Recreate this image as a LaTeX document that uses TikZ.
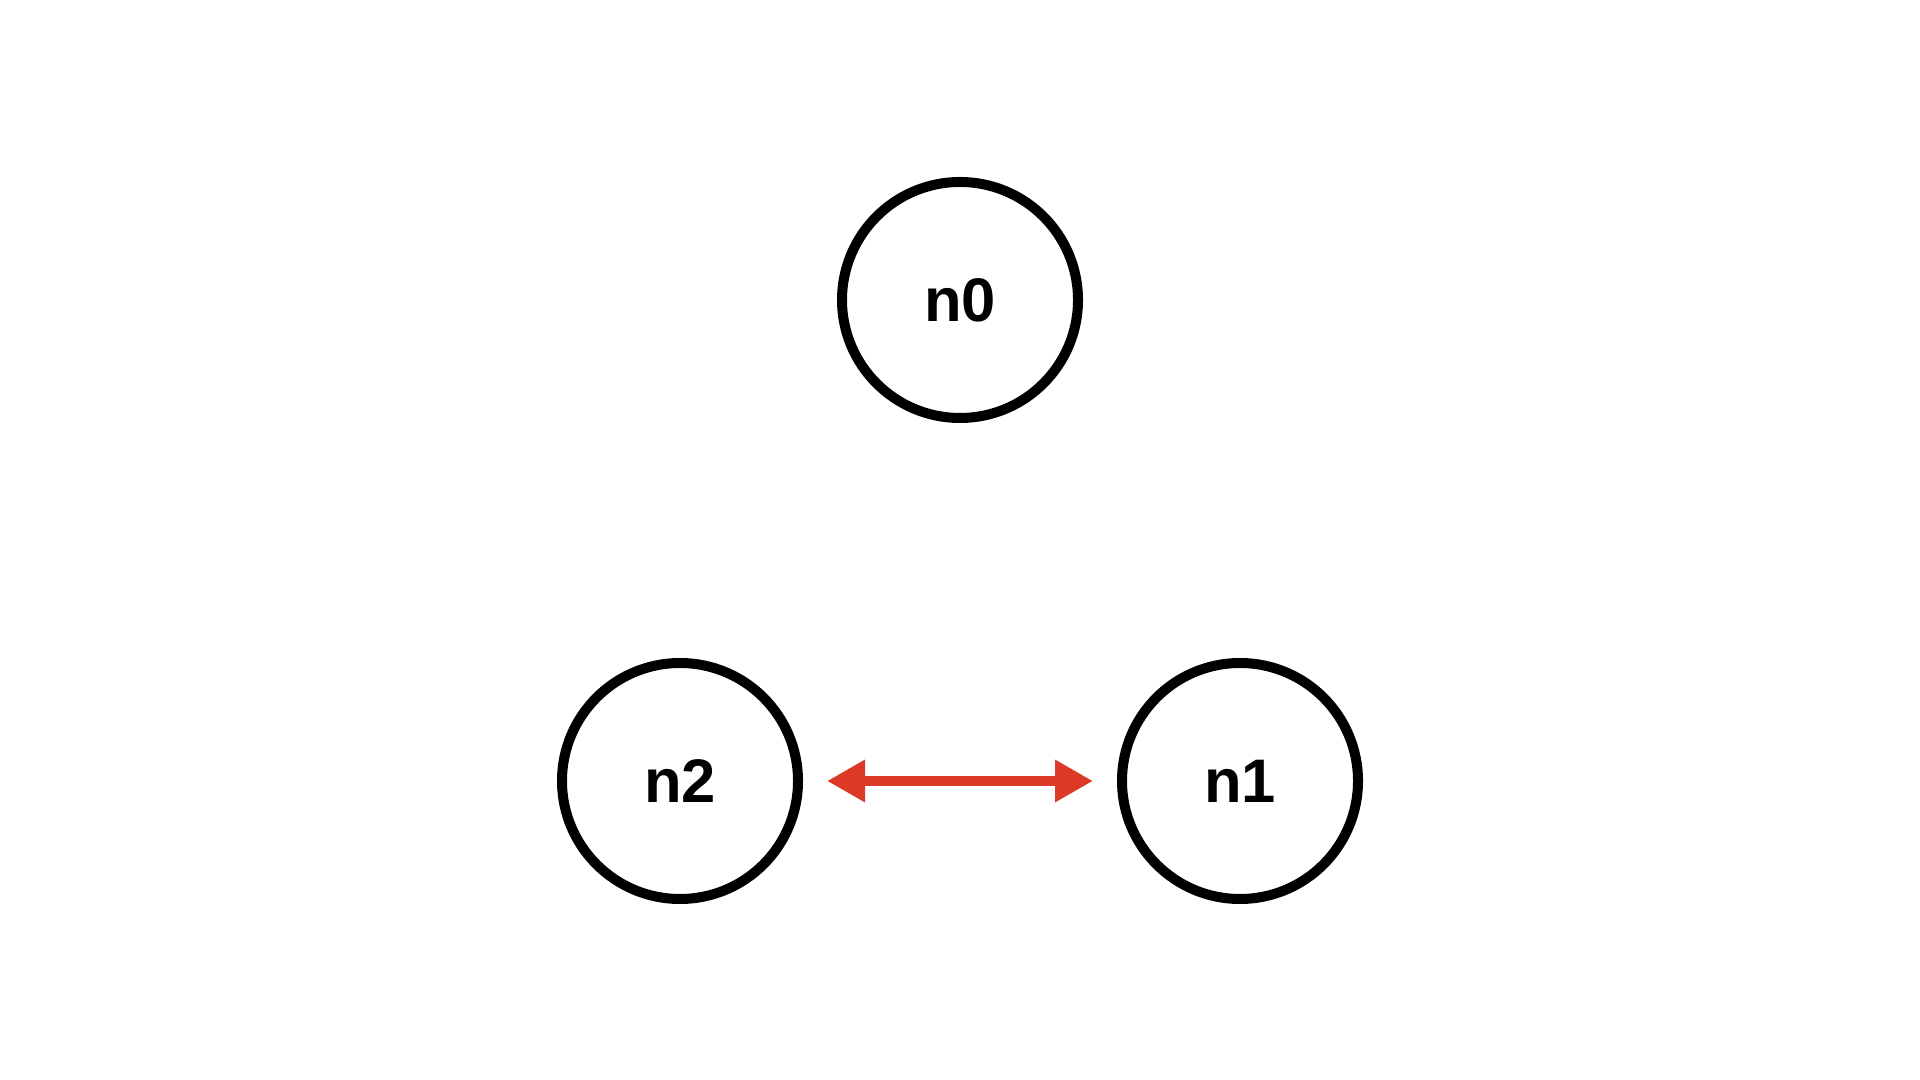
\documentclass[tikz,border=0pt]{standalone}
\usepackage{fontspec}
\setmainfont{Liberation Sans}
\usetikzlibrary{arrows.meta}
\definecolor{edgered}{HTML}{DB3B26}

\begin{document}
\begin{tikzpicture}[
        vertex/.style={draw, circle, line width=0.1cm, minimum size=2.36cm,
            inner sep=0pt, outer sep=0pt, font=\fontsize{17.5}{20}\selectfont\bfseries},
        link/.style={edgered, line width=0.1cm,
            {Triangle[length=0.38cm,width=0.4cm]}-{Triangle[length=0.38cm,width=0.4cm]},
            shorten <=0.29cm, shorten >=0.29cm}
    ]
    \useasboundingbox (0, 0) rectangle (19.2, 10.8);
    % Nodes
    \node[vertex] (n0) at (9.6, 7.8) {n0};
    \node[vertex] (n1) at (12.4, 2.99) {n1};
    \node[vertex] (n2) at (6.8, 2.99) {n2};
    % Edge
    \draw[link] (n2) -- (n1);
\end{tikzpicture}
\end{document}
